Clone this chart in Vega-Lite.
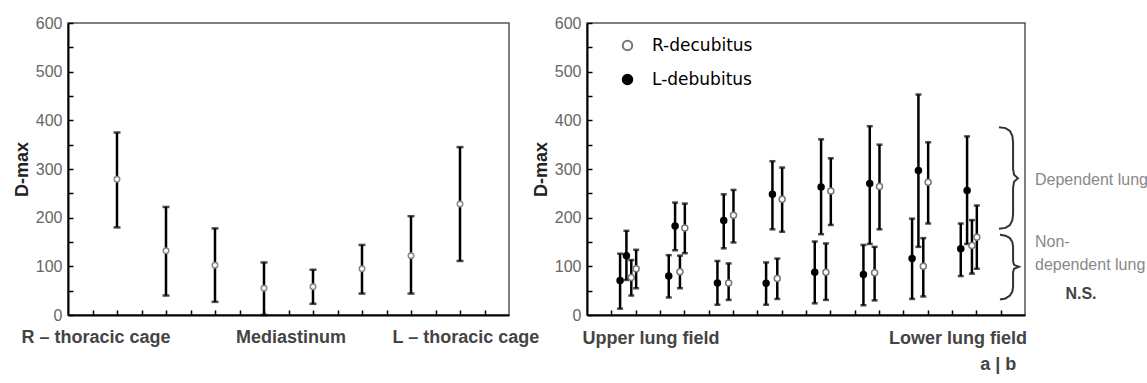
{
  "$schema": "https://vega.github.io/schema/vega-lite/v6.json",
  "background": "white",
  "padding": {"left": 12, "top": 14, "right": 0, "bottom": 0},
  "spacing": 78,
  "bounds": "flush",
  "resolve": {"legend": {"fill": "independent", "stroke": "independent"}},
  "config": {
    "view": {"stroke": "#555", "strokeWidth": 1.5},
    "axis": {
      "domainColor": "black", "domainWidth": 2, "tickColor": "black", "tickWidth": 1.5,
      "tickSize": -5, "grid": false, "labelFont": "Liberation Sans", "labelFontSize": 16,
      "labelColor": "#666", "labelPadding": 11, "titleFont": "Liberation Sans", "titleFontSize": 18,
      "titleFontWeight": "bold", "titleColor": "#222", "titlePadding": 4
    },
    "text": {"font": "Liberation Sans"}
  },
  "hconcat": [
    {
      "width": 441, "height": 292,
      "encoding": {
        "x": {"field": "x", "type": "quantitative", "scale": {"domain": [0, 9], "nice": false},
              "axis": {"title": null, "labels": false, "values": [0.5,1,1.5,2,2.5,3,3.5,4,4.5,5,5.5,6,6.5,7,7.5,8,8.5]}}
      },
      "layer": [
        {
          "data": {"values": [
            {"x": 1, "y": 279, "lo": 180, "hi": 375},
            {"x": 2, "y": 132, "lo": 40, "hi": 222},
            {"x": 3, "y": 102, "lo": 27, "hi": 178},
            {"x": 4, "y": 55, "lo": 0, "hi": 108},
            {"x": 5, "y": 58, "lo": 23, "hi": 93},
            {"x": 6, "y": 95, "lo": 44, "hi": 144},
            {"x": 7, "y": 122, "lo": 44, "hi": 203},
            {"x": 8, "y": 228, "lo": 111, "hi": 345}
          ]},
          "layer": [
            {
              "mark": {"type": "rule", "color": "black", "strokeWidth": 2.5},
              "encoding": {
                "y": {"field": "lo", "type": "quantitative", "scale": {"domain": [0, 600], "nice": false},
                      "axis": {"title": "D-max", "values": [0,50,100,150,200,250,300,350,400,450,500,550,600],
                               "labelExpr": "datum.value % 100 === 0 ? datum.label : ''"}},
                "y2": {"field": "hi"}
              }
            },
            {
              "mark": {"type": "tick", "orient": "horizontal", "color": "black", "size": 7, "thickness": 2.5},
              "encoding": {
                "y": {"field": "lo", "type": "quantitative", "scale": {"domain": [0, 600], "nice": false},
                      "axis": {"title": "D-max", "values": [0,50,100,150,200,250,300,350,400,450,500,550,600],
                               "labelExpr": "datum.value % 100 === 0 ? datum.label : ''"}}
              }
            },
            {
              "mark": {"type": "tick", "orient": "horizontal", "color": "black", "size": 7, "thickness": 2.5},
              "encoding": {
                "y": {"field": "hi", "type": "quantitative", "scale": {"domain": [0, 600], "nice": false},
                      "axis": {"title": "D-max", "values": [0,50,100,150,200,250,300,350,400,450,500,550,600],
                               "labelExpr": "datum.value % 100 === 0 ? datum.label : ''"}}
              }
            },
            {
              "mark": {"type": "point", "shape": "circle", "filled": true, "fill": "white", "stroke": "#888", "strokeWidth": 1.5, "size": 30, "opacity": 1},
              "encoding": {
                "y": {"field": "y", "type": "quantitative", "scale": {"domain": [0, 600], "nice": false},
                      "axis": {"title": "D-max", "values": [0,50,100,150,200,250,300,350,400,450,500,550,600],
                               "labelExpr": "datum.value % 100 === 0 ? datum.label : ''"}}
              }
            }
          ]
        },
        {
          "data": {"values": [
            {"x": 0.57, "y": -47, "label": "R – thoracic cage"},
            {"x": 4.55, "y": -47, "label": "Mediastinum"},
            {"x": 8.12, "y": -47, "label": "L – thoracic cage"}
          ]},
          "mark": {"type": "text", "fontSize": 18, "fontWeight": "bold", "color": "#444", "align": "center", "baseline": "middle", "clip": false},
          "encoding": {
            "y": {"field": "y", "type": "quantitative", "scale": {"domain": [0, 600], "nice": false},
                  "axis": {"title": "D-max", "values": [0,50,100,150,200,250,300,350,400,450,500,550,600],
                           "labelExpr": "datum.value % 100 === 0 ? datum.label : ''"}},
            "text": {"field": "label"}
          }
        }
      ]
    },
    {
      "width": 438, "height": 292,
      "encoding": {
        "x": {"field": "x", "type": "quantitative", "scale": {"domain": [0, 18], "nice": false},
              "axis": {"title": null, "labels": false, "values": [1,2,3,4,5,6,7,8,9,10,11,12,13,14,15,16,17]}}
      },
      "layer": [
        {
          "data": {"values": [
            {"x": 1.36, "y": 71, "lo": 13, "hi": 126, "posture": "L-debubitus"},
            {"x": 1.62, "y": 122, "lo": 72, "hi": 173, "posture": "L-debubitus"},
            {"x": 1.82, "y": 77, "lo": 40, "hi": 113, "posture": "R-decubitus"},
            {"x": 2.02, "y": 95, "lo": 55, "hi": 134, "posture": "R-decubitus"},
            {"x": 3.36, "y": 80, "lo": 36, "hi": 123, "posture": "L-debubitus"},
            {"x": 3.62, "y": 183, "lo": 133, "hi": 231, "posture": "L-debubitus"},
            {"x": 3.82, "y": 89, "lo": 55, "hi": 122, "posture": "R-decubitus"},
            {"x": 4.02, "y": 179, "lo": 127, "hi": 229, "posture": "R-decubitus"},
            {"x": 5.36, "y": 66, "lo": 21, "hi": 111, "posture": "L-debubitus"},
            {"x": 5.62, "y": 194, "lo": 137, "hi": 248, "posture": "L-debubitus"},
            {"x": 5.82, "y": 66, "lo": 31, "hi": 106, "posture": "R-decubitus"},
            {"x": 6.02, "y": 205, "lo": 149, "hi": 257, "posture": "R-decubitus"},
            {"x": 7.36, "y": 65, "lo": 21, "hi": 108, "posture": "L-debubitus"},
            {"x": 7.62, "y": 248, "lo": 176, "hi": 316, "posture": "L-debubitus"},
            {"x": 7.82, "y": 75, "lo": 33, "hi": 116, "posture": "R-decubitus"},
            {"x": 8.02, "y": 238, "lo": 171, "hi": 303, "posture": "R-decubitus"},
            {"x": 9.36, "y": 88, "lo": 24, "hi": 151, "posture": "L-debubitus"},
            {"x": 9.62, "y": 263, "lo": 166, "hi": 361, "posture": "L-debubitus"},
            {"x": 9.82, "y": 88, "lo": 31, "hi": 147, "posture": "R-decubitus"},
            {"x": 10.02, "y": 255, "lo": 185, "hi": 322, "posture": "R-decubitus"},
            {"x": 11.36, "y": 83, "lo": 20, "hi": 144, "posture": "L-debubitus"},
            {"x": 11.62, "y": 270, "lo": 146, "hi": 388, "posture": "L-debubitus"},
            {"x": 11.82, "y": 87, "lo": 30, "hi": 140, "posture": "R-decubitus"},
            {"x": 12.02, "y": 264, "lo": 176, "hi": 350, "posture": "R-decubitus"},
            {"x": 13.36, "y": 116, "lo": 33, "hi": 198, "posture": "L-debubitus"},
            {"x": 13.62, "y": 297, "lo": 140, "hi": 453, "posture": "L-debubitus"},
            {"x": 13.82, "y": 100, "lo": 38, "hi": 158, "posture": "R-decubitus"},
            {"x": 14.02, "y": 273, "lo": 188, "hi": 355, "posture": "R-decubitus"},
            {"x": 15.36, "y": 136, "lo": 80, "hi": 188, "posture": "L-debubitus"},
            {"x": 15.62, "y": 256, "lo": 146, "hi": 367, "posture": "L-debubitus"},
            {"x": 15.82, "y": 143, "lo": 85, "hi": 195, "posture": "R-decubitus"},
            {"x": 16.02, "y": 160, "lo": 95, "hi": 225, "posture": "R-decubitus"}
          ]},
          "layer": [
            {
              "mark": {"type": "rule", "color": "black", "strokeWidth": 2.5},
              "encoding": {
                "y": {"field": "lo", "type": "quantitative", "scale": {"domain": [0, 600], "nice": false},
                      "axis": {"title": "D-max", "values": [0,50,100,150,200,250,300,350,400,450,500,550,600],
                               "labelExpr": "datum.value % 100 === 0 ? datum.label : ''"}},
                "y2": {"field": "hi"}
              }
            },
            {
              "mark": {"type": "tick", "orient": "horizontal", "color": "black", "size": 6, "thickness": 2.5},
              "encoding": {
                "y": {"field": "lo", "type": "quantitative", "scale": {"domain": [0, 600], "nice": false},
                      "axis": {"title": "D-max", "values": [0,50,100,150,200,250,300,350,400,450,500,550,600],
                               "labelExpr": "datum.value % 100 === 0 ? datum.label : ''"}}
              }
            },
            {
              "mark": {"type": "tick", "orient": "horizontal", "color": "black", "size": 6, "thickness": 2.5},
              "encoding": {
                "y": {"field": "hi", "type": "quantitative", "scale": {"domain": [0, 600], "nice": false},
                      "axis": {"title": "D-max", "values": [0,50,100,150,200,250,300,350,400,450,500,550,600],
                               "labelExpr": "datum.value % 100 === 0 ? datum.label : ''"}}
              }
            },
            {
              "mark": {"type": "point", "shape": "circle", "filled": true, "strokeWidth": 1.5, "size": 36, "opacity": 1},
              "encoding": {
                "y": {"field": "y", "type": "quantitative", "scale": {"domain": [0, 600], "nice": false},
                      "axis": {"title": "D-max", "values": [0,50,100,150,200,250,300,350,400,450,500,550,600],
                               "labelExpr": "datum.value % 100 === 0 ? datum.label : ''"}},
                "fill": {"field": "posture", "type": "nominal",
                         "scale": {"domain": ["R-decubitus", "L-debubitus"], "range": ["white", "black"]},
                         "legend": {"title": null, "orient": "none", "legendX": 32, "legendY": 14,
                                    "labelFont": "DejaVu Sans", "labelFontSize": 17, "labelColor": "black",
                                    "symbolSize": 90, "symbolStrokeWidth": 2, "symbolStrokeColor": "black",
                                    "labelOffset": 16, "rowPadding": 15, "padding": 0}},
                "stroke": {"field": "posture", "type": "nominal",
                           "scale": {"domain": ["R-decubitus", "L-debubitus"], "range": ["#777", "black"]},
                           "legend": null}
              }
            }
          ]
        },
        {
          "data": {"values": [
            {"b": "u", "o": 1, "x": 16.93, "y": 386},
            {"b": "u", "o": 2, "x": 17.2, "y": 384},
            {"b": "u", "o": 3, "x": 17.38, "y": 378},
            {"b": "u", "o": 4, "x": 17.48, "y": 368},
            {"b": "u", "o": 5, "x": 17.51, "y": 355},
            {"b": "u", "o": 6, "x": 17.51, "y": 300},
            {"b": "u", "o": 7, "x": 17.55, "y": 288},
            {"b": "u", "o": 8, "x": 17.71, "y": 281},
            {"b": "u", "o": 9, "x": 17.55, "y": 274},
            {"b": "u", "o": 10, "x": 17.51, "y": 262},
            {"b": "u", "o": 11, "x": 17.51, "y": 207},
            {"b": "u", "o": 12, "x": 17.48, "y": 195},
            {"b": "u", "o": 13, "x": 17.38, "y": 185},
            {"b": "u", "o": 14, "x": 17.2, "y": 179},
            {"b": "u", "o": 15, "x": 16.93, "y": 177},
            {"b": "l", "o": 1, "x": 16.97, "y": 165},
            {"b": "l", "o": 2, "x": 17.2, "y": 163},
            {"b": "l", "o": 3, "x": 17.38, "y": 158},
            {"b": "l", "o": 4, "x": 17.48, "y": 150},
            {"b": "l", "o": 5, "x": 17.51, "y": 140},
            {"b": "l", "o": 6, "x": 17.51, "y": 110},
            {"b": "l", "o": 7, "x": 17.55, "y": 103},
            {"b": "l", "o": 8, "x": 17.75, "y": 99},
            {"b": "l", "o": 9, "x": 17.55, "y": 95},
            {"b": "l", "o": 10, "x": 17.51, "y": 88},
            {"b": "l", "o": 11, "x": 17.51, "y": 58},
            {"b": "l", "o": 12, "x": 17.48, "y": 48},
            {"b": "l", "o": 13, "x": 17.38, "y": 40},
            {"b": "l", "o": 14, "x": 17.2, "y": 34},
            {"b": "l", "o": 15, "x": 16.97, "y": 32}
          ]},
          "mark": {"type": "line", "color": "#333", "strokeWidth": 2},
          "encoding": {
            "y": {"field": "y", "type": "quantitative", "scale": {"domain": [0, 600], "nice": false},
                  "axis": {"title": "D-max", "values": [0,50,100,150,200,250,300,350,400,450,500,550,600],
                           "labelExpr": "datum.value % 100 === 0 ? datum.label : ''"}},
            "order": {"field": "o", "type": "quantitative"},
            "detail": {"field": "b", "type": "nominal"}
          }
        },
        {
          "data": {"values": [
            {"x": 2.63, "y": -49, "label": "Upper lung field"},
            {"x": 15.25, "y": -49, "label": "Lower lung field"},
            {"x": 16.9, "y": -103, "label": "a | b"}
          ]},
          "mark": {"type": "text", "align": "center", "baseline": "middle", "clip": false, "fontSize": 18, "fontWeight": "bold", "color": "#444"},
          "encoding": {
            "y": {"field": "y", "type": "quantitative", "scale": {"domain": [0, 600], "nice": false},
                  "axis": {"title": "D-max", "values": [0,50,100,150,200,250,300,350,400,450,500,550,600],
                           "labelExpr": "datum.value % 100 === 0 ? datum.label : ''"}},
            "text": {"field": "label"}
          }
        },
        {
          "data": {"values": [
            {"x": 20.3, "y": 43, "label": "N.S."}
          ]},
          "mark": {"type": "text", "align": "center", "baseline": "middle", "clip": false, "fontSize": 16, "fontWeight": "bold", "color": "#444"},
          "encoding": {
            "y": {"field": "y", "type": "quantitative", "scale": {"domain": [0, 600], "nice": false},
                  "axis": {"title": "D-max", "values": [0,50,100,150,200,250,300,350,400,450,500,550,600],
                           "labelExpr": "datum.value % 100 === 0 ? datum.label : ''"}},
            "text": {"field": "label"}
          }
        },
        {
          "data": {"values": [
            {"x": 18.41, "y": 277, "label": "Dependent lung"},
            {"x": 18.41, "y": 150, "label": "Non-"},
            {"x": 18.41, "y": 103, "label": "dependent lung"}
          ]},
          "mark": {"type": "text", "baseline": "middle", "align": "left", "clip": false, "fontSize": 16, "color": "#888"},
          "encoding": {
            "y": {"field": "y", "type": "quantitative", "scale": {"domain": [0, 600], "nice": false},
                  "axis": {"title": "D-max", "values": [0,50,100,150,200,250,300,350,400,450,500,550,600],
                           "labelExpr": "datum.value % 100 === 0 ? datum.label : ''"}},
            "text": {"field": "label"}
          }
        }
      ]
    }
  ]
}
